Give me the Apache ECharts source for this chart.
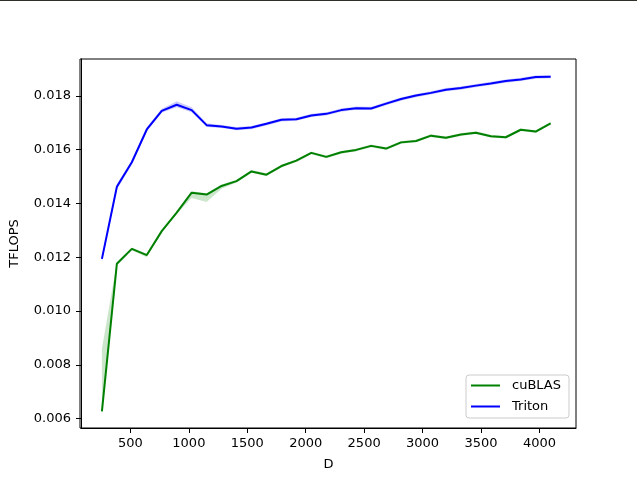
<!DOCTYPE html>
<html>
<head>
<meta charset="utf-8">
<script src="https://cdn.jsdelivr.net/npm/echarts@6/dist/echarts.min.js"></script>
<style>html,body{margin:0;padding:0;background:#fff;}#c{width:637px;height:481px;}</style>
</head>
<body>
<div id="c"></div>
<script>
const dims = [256,384,512,640,768,896,1024,1152,1280,1408,1536,1664,1792,1920,2048,2176,2304,2432,2560,2688,2816,2944,3072,3200,3328,3456,3584,3712,3840,3968,4096];
const cublas = [0.00627,0.01176,0.01231,0.01208,0.01297,0.01366,0.01440,0.01433,0.01465,0.01483,0.01519,0.01507,0.01539,0.01559,0.01588,0.01573,0.01590,0.01599,0.01614,0.01604,0.01627,0.01632,0.01652,0.01644,0.01656,0.01663,0.01650,0.01646,0.01674,0.01667,0.01698];
const cublasLow = [0.00622,0.01170,0.01226,0.01200,0.01292,0.01361,0.01420,0.01405,0.01455,0.01478,0.01514,0.01502,0.01534,0.01554,0.01583,0.01568,0.01585,0.01594,0.01609,0.01599,0.01622,0.01627,0.01647,0.01639,0.01651,0.01658,0.01645,0.01641,0.01669,0.01662,0.01693];
const cublasHigh = [0.00860,0.01182,0.01236,0.01213,0.01302,0.01371,0.01445,0.01438,0.01470,0.01488,0.01524,0.01512,0.01544,0.01564,0.01593,0.01578,0.01595,0.01604,0.01619,0.01609,0.01632,0.01637,0.01657,0.01649,0.01661,0.01668,0.01655,0.01651,0.01679,0.01672,0.01703];
const triton = [0.01194,0.01462,0.01553,0.01675,0.01744,0.01767,0.01747,0.01691,0.01686,0.01678,0.01682,0.01696,0.01711,0.01713,0.01727,0.01733,0.01747,0.01754,0.01753,0.01771,0.01788,0.01801,0.01811,0.01823,0.01829,0.01838,0.01846,0.01855,0.01861,0.01870,0.01871];
const tritonLow = [0.01180,0.01452,0.01545,0.01667,0.01737,0.01758,0.01739,0.01684,0.01680,0.01672,0.01676,0.01690,0.01705,0.01707,0.01721,0.01727,0.01741,0.01748,0.01747,0.01765,0.01782,0.01795,0.01805,0.01817,0.01823,0.01832,0.01840,0.01849,0.01855,0.01864,0.01865];
const tritonHigh = [0.01200,0.01472,0.01561,0.01683,0.01752,0.01780,0.01758,0.01698,0.01692,0.01684,0.01688,0.01702,0.01717,0.01719,0.01733,0.01739,0.01753,0.01760,0.01759,0.01777,0.01794,0.01807,0.01817,0.01829,0.01835,0.01844,0.01852,0.01861,0.01867,0.01876,0.01877];
const xTicks = [500,1000,1500,2000,2500,3000,3500,4000];
const yTicks = [0.006,0.008,0.010,0.012,0.014,0.016,0.018];

const pairs = (ys) => dims.map((d,i)=>[d, ys[i]]);

function band(name, lo, hi, color) {
  return {
    name: name, type: 'custom', silent: true, z: 1, clip: true,
    data: dims.map((d,i)=>[d, lo[i], hi[i]]),
    encode: {x: 0, y: [1, 2]},
    renderItem: function (params, api) {
      if (params.dataIndex !== 0) return null;
      const pts = [];
      for (let i = 0; i < dims.length; i++) pts.push(api.coord([dims[i], hi[i]]));
      for (let i = dims.length - 1; i >= 0; i--) pts.push(api.coord([dims[i], lo[i]]));
      return {type: 'polygon', shape: {points: pts}, style: {fill: color, opacity: 0.2}};
    }
  };
}

const chart = echarts.init(document.getElementById('c'), null, {renderer:'canvas'});
const font = 'DejaVu Sans';
chart.setOption({
  animation: false,
  backgroundColor: '#fff',
  textStyle: {fontFamily: font},
  grid: {left: 80, right: 61, top: 59, bottom: 53, containLabel: false},
  graphic: [
    {type:'rect', shape:{x:0,y:0,width:637,height:1}, style:{fill:'#2f3128'}},
    {type:'rect', z: 10, shape:{x:80,y:59,width:496,height:369}, style:{fill:'none', stroke:'#000', lineWidth:1}, silent:true}
  ],
  xAxis: {
    type: 'value', min: 77, max: 4313,
    name: 'D', nameLocation: 'middle', nameGap: 30,
    nameTextStyle: {color:'#000', fontSize: 13, fontFamily: font},
    axisLine: {show: true, onZero: false, lineStyle: {color:'#000', width: 1}},
    axisTick: {show: true, length: 5, lineStyle:{color:'#000'}, customValues: xTicks},
    axisLabel: {color:'#000', fontSize: 13, margin: 9, fontFamily: font, customValues: xTicks,
      formatter: v => String(v)},
    splitLine: {show: false}, splitArea: {show: false}
  },
  yAxis: {
    type: 'value', min: 0.00565, max: 0.01937,
    name: 'TFLOPS', nameLocation: 'middle', nameGap: 60,
    nameTextStyle: {color:'#000', fontSize: 13, fontFamily: font},
    axisLine: {show: true, onZero: false, lineStyle: {color:'#000', width: 1}},
    axisTick: {show: true, length: 5, lineStyle:{color:'#000'}, customValues: yTicks},
    axisLabel: {color:'#000', fontSize: 13, margin: 10, fontFamily: font, customValues: yTicks,
      formatter: v => v.toFixed(3)},
    splitLine: {show: false}, splitArea: {show: false}
  },
  legend: {
    data: [{name:'cuBLAS', icon:'rect'}, {name:'Triton', icon:'rect'}],
    orient: 'vertical', left: 466, top: 375,
    itemWidth: 29, itemHeight: 2, itemGap: 8,
    padding: [4, 8, 5, 5],
    backgroundColor: 'rgba(255,255,255,0.8)',
    borderColor: '#cccccc', borderWidth: 1, borderRadius: 3,
    textStyle: {color:'#000', fontSize: 13, fontFamily: font, padding:[0,0,0,7]}
  },
  series: [
    band('cbBand', cublasLow, cublasHigh, '#008000'),
    band('trBand', tritonLow, tritonHigh, '#0000ff'),
    {name:'cuBLAS', type:'line', data: pairs(cublas), symbol:'none', showSymbol:false,
     lineStyle:{color:'#008000', width:2}, itemStyle:{color:'#008000'}, z:3},
    {name:'Triton', type:'line', data: pairs(triton), symbol:'none', showSymbol:false,
     lineStyle:{color:'#0000ff', width:2}, itemStyle:{color:'#0000ff'}, z:3}
  ]
});
</script>
</body>
</html>
